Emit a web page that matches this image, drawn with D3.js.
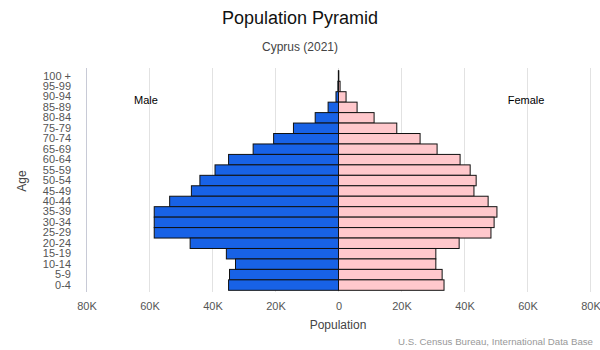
<!DOCTYPE html>
<html><head><meta charset="utf-8">
<script src="https://cdn.jsdelivr.net/npm/d3@7"></script>
<style>body{margin:0;background:#fff;}svg{display:block;font-family:"Liberation Sans",Arial,sans-serif;}</style>
</head><body>
<svg id="c" width="600" height="350"></svg>
<script>
const ageGroups = ["100 +","95-99","90-94","85-89","80-84","75-79","70-74","65-69","60-64","55-59","50-54","45-49","40-44","35-39","30-34","25-29","20-24","15-19","10-14","5-9","0-4"];
const male   = [50, 200, 800, 3300, 7400, 14300, 20600, 27100, 34900, 39200, 44000, 46700, 53600, 58500, 58500, 58500, 47100, 35600, 32700, 34600, 34900];
const female = [100, 500, 2400, 5900, 11300, 18500, 25900, 31300, 38600, 41800, 43700, 43000, 47500, 50300, 49400, 48400, 38300, 30900, 30900, 32900, 33500];
const xTicks = [-80000,-60000,-40000,-20000,0,20000,40000,60000,80000];
const xTickLabels = ["80K","60K","40K","20K","0","20K","40K","60K","80K"];

const svg = d3.select("#c");
const x = d3.scaleLinear().domain([-80000,80000]).range([86.5,590.5]);
const y = d3.scaleBand().domain(ageGroups).range([70.8,290.3]).padding(0);

// gridlines
svg.append("g").selectAll("line").data(xTicks).join("line")
  .attr("x1",d=>x(d)).attr("x2",d=>x(d)).attr("y1",68).attr("y2",292)
  .attr("stroke",(d,i)=>i===0?"#c8cad6":"#e2e2e2").attr("stroke-width",1);

// bars
svg.append("g").selectAll("rect").data(male).join("rect")
  .attr("x",d=>x(-d)).attr("width",d=>x(0)-x(-d))
  .attr("y",(d,i)=>y(ageGroups[i])).attr("height",y.bandwidth())
  .attr("fill","#1862e6").attr("stroke","#111").attr("stroke-width",1);
svg.append("g").selectAll("rect").data(female).join("rect")
  .attr("x",x(0)).attr("width",d=>x(d)-x(0))
  .attr("y",(d,i)=>y(ageGroups[i])).attr("height",y.bandwidth())
  .attr("fill","#ffc8cc").attr("stroke","#111").attr("stroke-width",1);

// x axis
const xAxis = d3.axisBottom(x).tickValues(xTicks).tickFormat((d,i)=>xTickLabels[i]).tickSize(0).tickPadding(0);
const gx = svg.append("g").attr("transform","translate(0,302)").call(xAxis);
gx.select(".domain").remove();
gx.selectAll("text").attr("fill","#555").attr("font-size","11px").attr("font-family","Liberation Sans, Arial, sans-serif");

// y axis
const yAxis = d3.axisLeft(y).tickSize(0).tickPadding(0);
const gy = svg.append("g").attr("transform","translate(71,0)").call(yAxis);
gy.select(".domain").remove();
gy.selectAll("text").attr("fill","#555").attr("font-size","11px").attr("font-family","Liberation Sans, Arial, sans-serif");

// titles
svg.append("text").attr("x",300).attr("y",24).attr("text-anchor","middle").attr("font-size","18px").attr("fill","#111").text("Population Pyramid");
svg.append("text").attr("x",300).attr("y",51).attr("text-anchor","middle").attr("font-size","12px").attr("fill","#444").text("Cyprus (2021)");
svg.append("text").attr("x",338).attr("y",329).attr("text-anchor","middle").attr("font-size","12px").attr("fill","#444").text("Population");
svg.append("text").attr("transform","translate(26,181) rotate(-90)").attr("text-anchor","middle").attr("font-size","12px").attr("fill","#444").text("Age");
svg.append("text").attr("x",593).attr("y",345).attr("text-anchor","end").attr("font-size","9.7px").attr("fill","#999").text("U.S. Census Bureau, International Data Base");
svg.append("text").attr("x",146).attr("y",104).attr("text-anchor","middle").attr("font-size","11px").attr("fill","#000").text("Male");
svg.append("text").attr("x",526).attr("y",104).attr("text-anchor","middle").attr("font-size","11px").attr("fill","#000").text("Female");
</script>
</body></html>
